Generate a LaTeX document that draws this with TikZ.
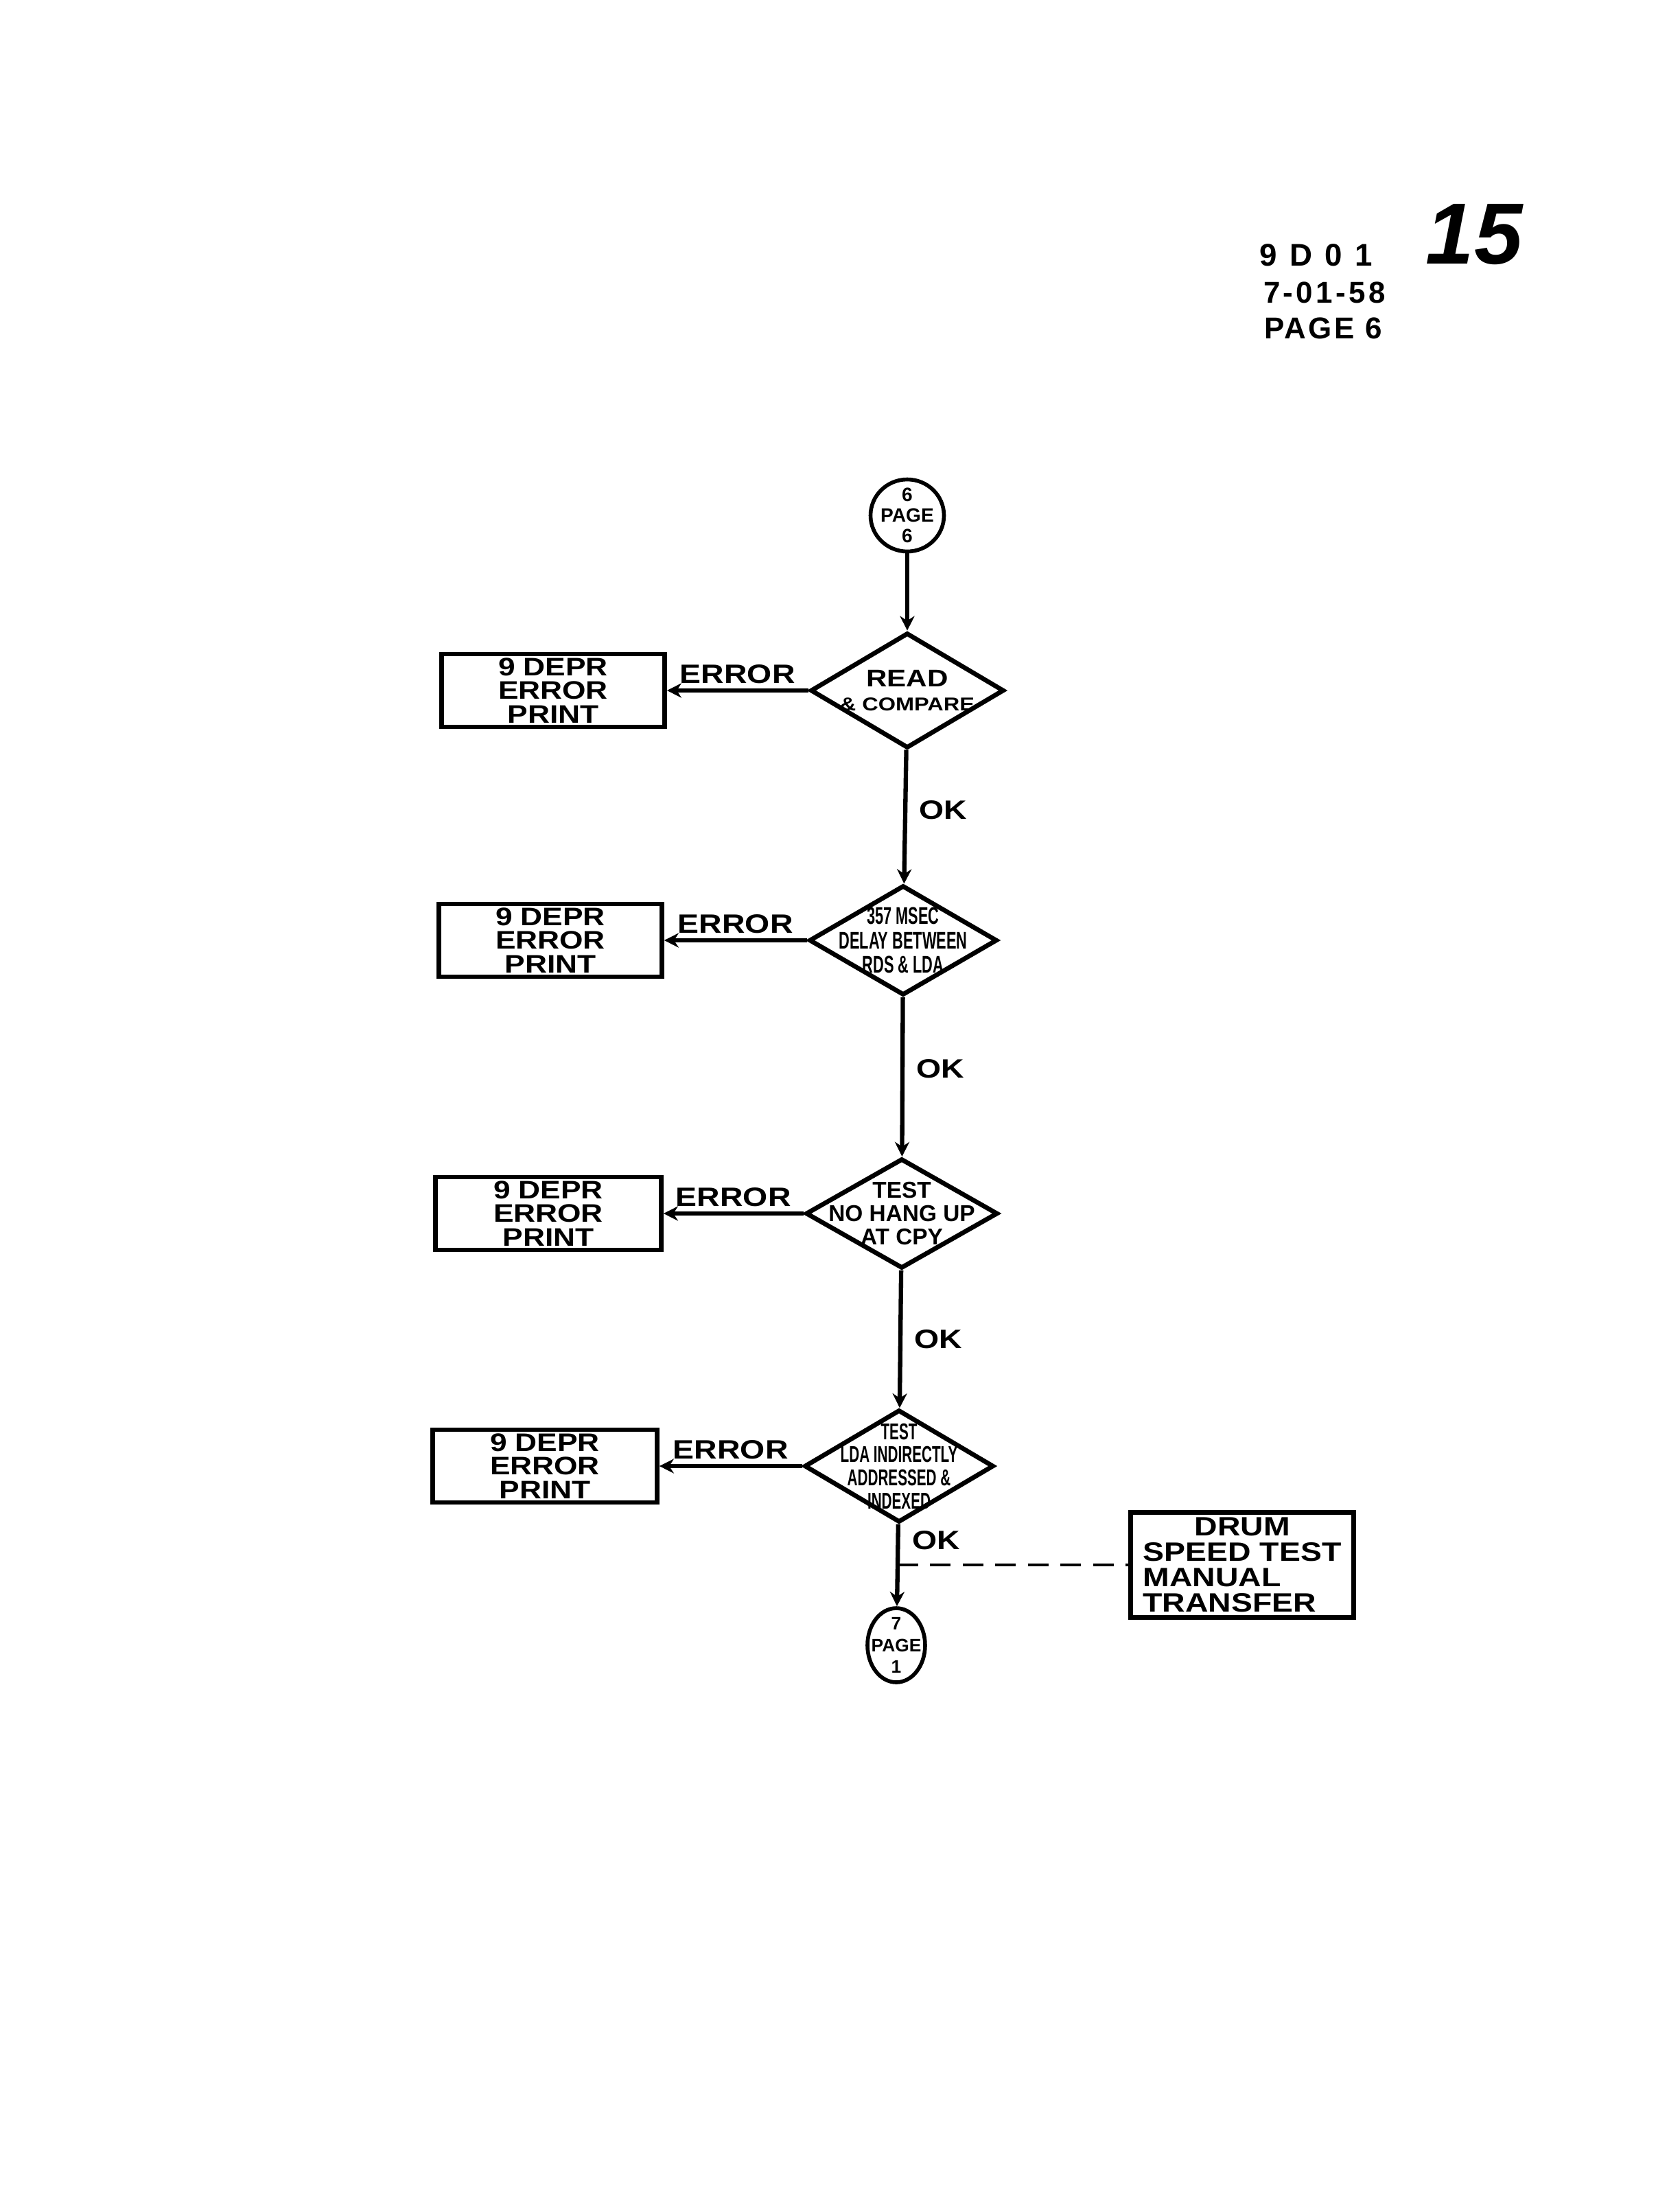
\documentclass[tikz,border=0pt]{standalone}
\usepackage{fontspec}
\setmainfont{Liberation Sans}
\newfontfamily\lettering{Liberation Sans}[FakeStretch=1.2]
\newfontfamily\narrowlettering{Liberation Sans}[FakeStretch=0.62]
\newfontfamily\headfont{Liberation Sans}
\usetikzlibrary{shapes.geometric,arrows.meta}

\begin{document}
\begin{tikzpicture}[x=1cm, y=1cm,
                    errbox/.style={draw, line width=1.9pt, minimum width=3.25cm, minimum height=1.06cm,
                                   inner sep=0pt, align=center, font=\lettering\bfseries\fontsize{10.5}{9.8}\selectfont},
                    manual/.style={draw, line width=1.9pt, minimum width=3.25cm, minimum height=1.53cm,
                                   inner sep=1pt, align=left, font=\lettering\bfseries\fontsize{11}{10.5}\selectfont},
                    test/.style={diamond, draw, line width=1.9pt, inner sep=-0.6cm, align=center},
                    page/.style={ellipse, draw, line width=1.6pt, inner sep=-0.4cm, align=center,
                                 font=\bfseries\fontsize{8}{8.5}\selectfont},
                    flow/.style={line width=1.8pt, -{Stealth[length=6pt, width=6pt]}},
                    tag/.style={font=\lettering\bfseries\fontsize{11}{11}\selectfont, inner sep=2pt}]
  \useasboundingbox (0,0) rectangle (24.48,-31.98);

  \node[font=\headfont\bfseries\fontsize{13}{13}\selectfont\addfontfeature{LetterSpace=40}] (code) at (19.18,-3.72) {9D01};
  \node[font=\headfont\bfseries\fontsize{12.5}{13}\selectfont\addfontfeature{LetterSpace=10}] (date) at (19.30,-4.26) {7-01-58};
  \node[font=\headfont\bfseries\fontsize{12.5}{13}\selectfont\addfontfeature{LetterSpace=8}] (sheet) at (19.28,-4.78) {PAGE 6};
  \node[font=\headfont\bfseries\itshape\fontsize{36}{36}\selectfont] (folio) at (21.48,-3.42) {15};

  \node[page, minimum width=1.07cm, minimum height=1.05cm] (p6) at (13.22,-7.51) {6\\PAGE\\6};

  \node[test, minimum width=2.82cm, minimum height=1.68cm, font=\lettering\bfseries\fontsize{10}{10}\selectfont] (read) at (13.22,-10.06)
    {READ\\{\fontsize{7.7}{10}\selectfont\&~COMPARE}};
  \node[test, minimum width=2.74cm, minimum height=1.60cm, font=\narrowlettering\bfseries\fontsize{10}{10}\selectfont] (delay) at (13.16,-13.70)
    {357 MSEC\\DELAY BETWEEN\\RDS \& LDA};
  \node[test, minimum width=2.80cm, minimum height=1.60cm, font=\bfseries\fontsize{9.5}{9.8}\selectfont] (hang) at (13.14,-17.68)
    {TEST\\NO HANG UP\\AT CPY};
  \node[test, minimum width=2.76cm, minimum height=1.64cm, font=\narrowlettering\bfseries\fontsize{9.5}{9.6}\selectfont] (index) at (13.10,-21.36)
    {TEST\\LDA INDIRECTLY\\ADDRESSED \&\\INDEXED};

  \node[errbox] (e1) at (8.06,-10.06) {9 DEPR\\ERROR\\PRINT};
  \node[errbox] (e2) at (8.02,-13.70) {9 DEPR\\ERROR\\PRINT};
  \node[errbox, minimum width=3.29cm] (e3) at (7.99,-17.68) {9 DEPR\\ERROR\\PRINT};
  \node[errbox, minimum width=3.27cm] (e4) at (7.94,-21.36) {9 DEPR\\ERROR\\PRINT};

  \node[manual] (drum) at (18.10,-22.80) {\hspace*{0.75cm}DRUM\\SPEED TEST\\MANUAL\\TRANSFER};
  \node[page, minimum width=0.84cm, minimum height=1.08cm, font=\bfseries\fontsize{7.5}{9}\selectfont] (p7) at (13.06,-23.97) {7\\PAGE\\1};
  \coordinate (j) at (13.08,-22.80);

  \draw[flow] (p6) -- (read);
  \draw[flow] (read) -- node[tag, right, pos=0.45, xshift=3pt] (ok1) {OK} (delay);
  \draw[flow] (delay) -- node[tag, right, pos=0.45, xshift=3pt] (ok2) {OK} (hang);
  \draw[flow] (hang) -- node[tag, right, pos=0.5, xshift=3pt] (ok3) {OK} (index);
  \draw[line width=1.8pt] (index) -- node[tag, right, pos=0.4, xshift=3pt] (ok4) {OK} (j);
  \draw[flow] (j) -- (p7);
  \draw[line width=1.4pt, dash pattern=on 8.5pt off 5pt] (j) -- (drum.west);

  \draw[flow] (read.west) -- node[tag, above] (err1) {ERROR} (e1.east);
  \draw[flow] (delay.west) -- node[tag, above] (err2) {ERROR} (e2.east);
  \draw[flow] (hang.west) -- node[tag, above] (err3) {ERROR} (e3.east);
  \draw[flow] (index.west) -- node[tag, above] (err4) {ERROR} (e4.east);
\end{tikzpicture}
\end{document}
